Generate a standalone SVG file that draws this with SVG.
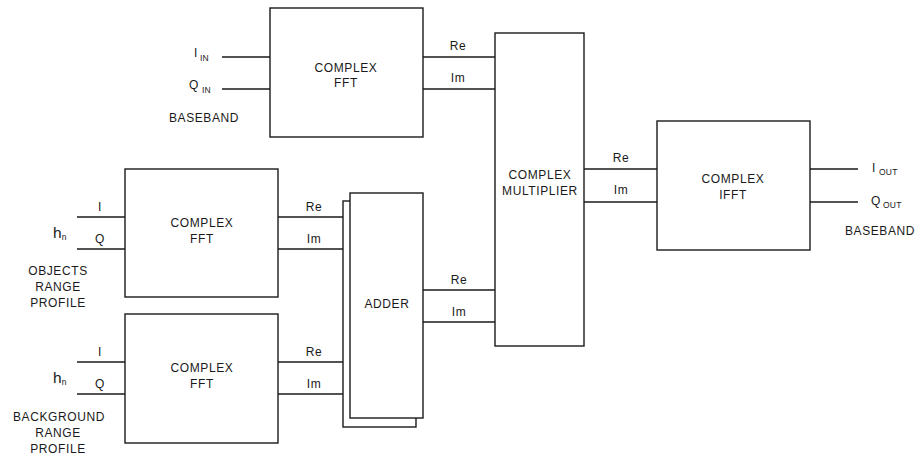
<svg xmlns="http://www.w3.org/2000/svg" width="916" height="456" viewBox="0 0 916 456">
<style>
.box{fill:#fff;stroke:#1a1a1a;stroke-width:1.4}
.ln{stroke:#1a1a1a;stroke-width:1.3;fill:none}
text{font-family:"Liberation Sans",Arial,sans-serif;font-size:12px;fill:#1a1a1a;letter-spacing:0.6px;text-anchor:middle}
.st{text-anchor:start}
.sub{font-size:8.5px;letter-spacing:0.3px}
.h{font-size:15.5px;letter-spacing:0}
</style>
<rect width="916" height="456" fill="#fff"/>
<g id="connectors">
<line class="ln" x1="222" y1="57" x2="270" y2="57"/>
<line class="ln" x1="222" y1="89" x2="270" y2="89"/>
<line class="ln" x1="423" y1="57" x2="495" y2="57"/>
<line class="ln" x1="423" y1="89" x2="495" y2="89"/>
<line class="ln" x1="77" y1="217" x2="125" y2="217"/>
<line class="ln" x1="77" y1="249" x2="125" y2="249"/>
<line class="ln" x1="278" y1="217" x2="350" y2="217"/>
<line class="ln" x1="278" y1="249" x2="343" y2="249"/>
<line class="ln" x1="77" y1="362" x2="125" y2="362"/>
<line class="ln" x1="77" y1="394" x2="125" y2="394"/>
<line class="ln" x1="278" y1="362" x2="350" y2="362"/>
<line class="ln" x1="278" y1="394" x2="343" y2="394"/>
<line class="ln" x1="423" y1="290" x2="495" y2="290"/>
<line class="ln" x1="423" y1="322" x2="495" y2="322"/>
<line class="ln" x1="584" y1="169" x2="657" y2="169"/>
<line class="ln" x1="584" y1="202" x2="657" y2="202"/>
<line class="ln" x1="810" y1="169" x2="858" y2="169"/>
<line class="ln" x1="810" y1="202" x2="858" y2="202"/>
<text x="458" y="50">Re</text>
<text x="458" y="82">Im</text>
<text x="314" y="211">Re</text>
<text x="314" y="243">Im</text>
<text x="314" y="356">Re</text>
<text x="314" y="388">Im</text>
<text x="459" y="284">Re</text>
<text x="459" y="316">Im</text>
<text x="621" y="162">Re</text>
<text x="621" y="194">Im</text>
</g>
<g id="input-baseband">
<text class="st" x="194" y="57">I<tspan class="sub" dx="2" dy="4">IN</tspan></text>
<text class="st" x="189" y="89">Q<tspan class="sub" dx="3" dy="4">IN</tspan></text>
<text x="204" y="122">BASEBAND</text>
</g>
<g id="fft-top">
<rect class="box" x="270" y="8" width="153" height="129"/>
<text x="346" y="72">COMPLEX</text>
<text x="346" y="87">FFT</text>
</g>
<g id="objects-input">
<text class="st h" x="53" y="238">h<tspan class="sub" dy="2">n</tspan></text>
<text x="100" y="211">I</text>
<text x="100" y="243">Q</text>
<text x="58" y="275">OBJECTS</text>
<text x="58" y="291">RANGE</text>
<text x="58" y="307">PROFILE</text>
</g>
<g id="fft-objects">
<rect class="box" x="125" y="169" width="153" height="128"/>
<text x="202" y="227">COMPLEX</text>
<text x="202" y="243">FFT</text>
</g>
<g id="background-input">
<text class="st h" x="53" y="383">h<tspan class="sub" dy="2">n</tspan></text>
<text x="100" y="356">I</text>
<text x="100" y="388">Q</text>
<text x="59" y="421">BACKGROUND</text>
<text x="58" y="437">RANGE</text>
<text x="58" y="453">PROFILE</text>
</g>
<g id="fft-background">
<rect class="box" x="125" y="314" width="153" height="129"/>
<text x="202" y="372">COMPLEX</text>
<text x="202" y="388">FFT</text>
</g>
<g id="adder">
<rect class="box" x="343" y="201" width="73" height="226"/>
<rect class="box" x="350" y="193" width="73" height="225"/>
<text x="387" y="308">ADDER</text>
</g>
<g id="multiplier">
<rect class="box" x="495" y="33" width="89" height="313"/>
<text x="540" y="179">COMPLEX</text>
<text x="540" y="195">MULTIPLIER</text>
</g>
<g id="ifft">
<rect class="box" x="657" y="121" width="153" height="129"/>
<text x="733" y="183">COMPLEX</text>
<text x="733" y="199">IFFT</text>
</g>
<g id="output-baseband">
<text class="st" x="872" y="172">I<tspan class="sub" dx="3" dy="3">OUT</tspan></text>
<text class="st" x="871" y="205">Q<tspan class="sub" dx="2" dy="3">OUT</tspan></text>
<text x="880" y="235">BASEBAND</text>
</g>
</svg>
